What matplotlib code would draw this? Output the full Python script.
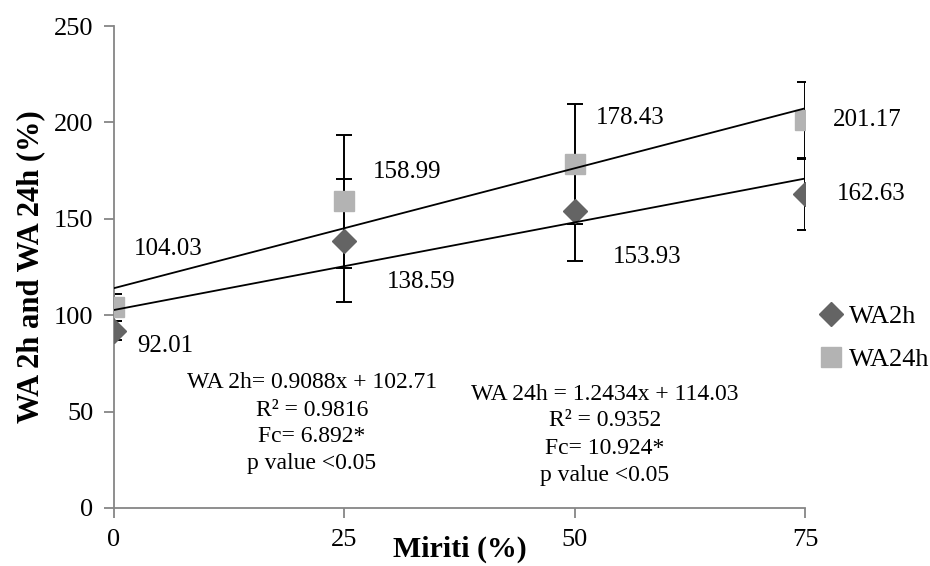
import numpy as np
import matplotlib
matplotlib.use("Agg")
import matplotlib.pyplot as plt

# ---- data ----
miriti = [0, 25, 50, 75]
wa2h = [92.01, 138.59, 153.93, 162.63]
wa24h = [104.03, 158.99, 178.43, 201.17]
err2h = [5, 32, 25.6, 18.5]
err24h = [7, 34.5, 31.3, 19.6]

# trend equations (slope, intercept) as stated in the chart
fit2h = [0.9088, 102.71]
fit24h = [1.2434, 114.03]
eq2h_lines = ["WA 2h= 0.9088x + 102.71", "R\u00b2 = 0.9816", "Fc= 6.892*", "p value <0.05"]
eq24h_lines = ["WA 24h = 1.2434x + 114.03", "R\u00b2 = 0.9352", "Fc= 10.924*", "p value <0.05"]

xticks = [0, 25, 50, 75]
yticks = [0, 50, 100, 150, 200, 250]

# label offsets (points) for data labels
off2h = [(37, -11), (55, -30), (52, -33), (48, 0)]
off24h = [(39, 42), (45, 21), (40, 33), (45, 0)]

plt.rcParams['font.family'] = ['Liberation Serif', 'DejaVu Serif']

fig = plt.figure(figsize=(9.3, 5.66), dpi=100)
ax = fig.add_axes([114/930, 1-508/566, (805-114)/930, (508-26)/566])

c2h = '#646464'
c24h = '#b3b3b3'
axc = '#868686'

# error bars
ax.errorbar(miriti, wa24h, yerr=err24h, fmt='none', ecolor='black', elinewidth=1.4,
            capsize=6, capthick=1.4, zorder=2)
ax.errorbar(miriti, wa2h, yerr=err2h, fmt='none', ecolor='black', elinewidth=1.4,
            capsize=6, capthick=1.4, zorder=2)

# markers
h2, = ax.plot(miriti, wa2h, linestyle='none', marker='D', markersize=12.5,
              color=c2h, zorder=3, label='WA2h')
h24, = ax.plot(miriti, wa24h, linestyle='none', marker='s', markersize=14,
               color=c24h, zorder=3, label='WA24h')

# trend lines
xl = np.array([0, 75])
ax.plot(xl, fit2h[0]*xl + fit2h[1], color='black', lw=1.3, zorder=4)
ax.plot(xl, fit24h[0]*xl + fit24h[1], color='black', lw=1.3, zorder=4)

# data labels
for x, y, o in zip(miriti, wa2h, off2h):
    ax.annotate(f"{y:.2f}", (x, y), xytext=o, textcoords='offset points',
                ha='center', va='center', fontsize=18, zorder=5)
for x, y, o in zip(miriti, wa24h, off24h):
    ax.annotate(f"{y:.2f}", (x, y), xytext=o, textcoords='offset points',
                ha='center', va='center', fontsize=18, zorder=5)

# equation blocks (one text per line, 27 px apart)
def eq_block(xc, ytop_px, lines):
    for i, s in enumerate(lines):
        ypx = ytop_px + 27 * i
        fig.text(xc / 930, 1 - ypx / 566, s, ha='center', va='center', fontsize=17)

eq_block(312, 383, eq2h_lines)
eq_block(605, 394, eq24h_lines)

ax.set_xlim(0, 75)
ax.set_ylim(0, 250)
ax.set_xticks(xticks)
ax.set_yticks(yticks)
ax.tick_params(axis='both', labelsize=19, color=axc, length=7, width=1.3, pad=8)
for s in ['top', 'right']:
    ax.spines[s].set_visible(False)
for s in ['left', 'bottom']:
    ax.spines[s].set_color(axc)
    ax.spines[s].set_linewidth(1.3)

ax.set_xlabel("Miriti (%)", fontsize=21.5, fontweight='bold', labelpad=-11)
ax.set_ylabel("WA 2h and WA 24h (%)", fontsize=22, fontweight='bold', labelpad=6)

fig.legend(handles=[h2, h24], loc='center left', bbox_to_anchor=(820/930, 1-338/566),
           frameon=False, fontsize=19, handlelength=0.8, handletextpad=0.3,
           labelspacing=0.75, borderpad=0, borderaxespad=0)

fig.savefig("out.png", dpi=100)
